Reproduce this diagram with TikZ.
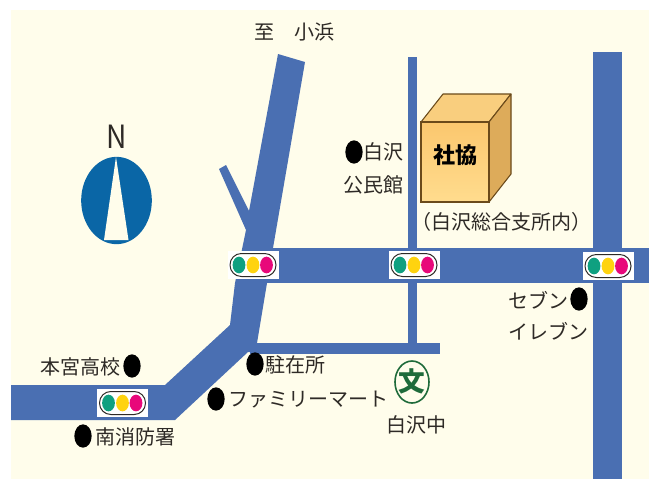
\documentclass[tikz,border=0pt]{standalone}
\usepackage{fontspec}
\setmainfont{Noto Sans CJK JP}
\usetikzlibrary{shapes.geometric}
\definecolor{cream}{HTML}{FFFDEB}
\definecolor{road}{HTML}{4A6FB2}
\definecolor{compass}{HTML}{0A66A6}
\definecolor{sgreen}{HTML}{0FA080}
\definecolor{syellow}{HTML}{FFD30F}
\definecolor{spink}{HTML}{E8087A}
\definecolor{ink}{HTML}{2E2A26}
\definecolor{school}{HTML}{1F6B3A}
\definecolor{boxedge}{HTML}{6B4A1A}
\definecolor{boxtop}{HTML}{F9CE7E}
\definecolor{boxside}{HTML}{DDAB5A}
\definecolor{boxfronta}{HTML}{FBC76E}
\definecolor{boxfrontb}{HTML}{FFDC8E}
\tikzset{
  x=0.75pt,y=-0.75pt,
  roadfill/.style={fill=road,draw=none},
  lbl/.style={font=\fontsize{15pt}{16pt}\selectfont,text=ink,inner sep=0pt},
  dotmark/.style={ellipse,fill=black,draw=none,minimum width=13pt,minimum height=17.5pt,inner sep=0pt,outer sep=0pt},
  signalbg/.style={fill=white,draw=none},
  signalcase/.style={draw=ink,line width=0.75pt,fill=white,rounded corners=8.5pt},
  lamp/.style={ellipse,draw=none,minimum width=9.6pt,minimum height=12.5pt,inner sep=0pt,outer sep=0pt},
}
\newcommand{\trafficsignal}[3]{% centre x, centre y, name
  \fill[signalbg] (#1-25.5,#2-14) rectangle (#1+25.5,#2+14);
  \draw[signalcase] (#1-23,#2-11.5) rectangle (#1+23,#2+11.5);
  \node[lamp,fill=sgreen] (#3g) at (#1-14,#2) {};
  \node[lamp,fill=syellow] (#3y) at (#1,#2) {};
  \node[lamp,fill=spink] (#3p) at (#1+13.5,#2) {};
}
\begin{document}
\begin{tikzpicture}
\useasboundingbox (0,0) rectangle (649,479);
\fill[white] (0,0) rectangle (649,479);
\fill[cream] (11,10) rectangle (649,479);
% roads
\fill[roadfill] (593,52) rectangle (622,479);
\fill[roadfill] (408,57) rectangle (417,345);
\fill[roadfill] (250,343) rectangle (440,354);
\fill[roadfill] (255,248) rectangle (649,283);
\fill[roadfill] (278,54) -- (305,62) -- (273,248) -- (267,283) -- (257,343) -- (257,352)
  -- (248,352) -- (175,420) -- (11,420) -- (11,385) -- (165,385) -- (230,325) -- (235,283)
  -- (246,230) -- (219,169) -- (226,165) -- (249,211) -- cycle;
% compass
\node[lbl,font=\fontsize{24pt}{26pt}\selectfont] (north) at (117,137) {\scalebox{0.88}[1]{N}};
\node[ellipse,fill=compass,minimum width=53pt,minimum height=65.5pt,inner sep=0pt,outer sep=0pt] (dial) at (116.5,200.5) {};
\fill[cream] (116,157) -- (128.5,240) -- (104,240) -- cycle;
% building
\fill[top color=boxfronta,bottom color=boxfrontb,draw=none] (421,122) rectangle (489,202);
\filldraw[fill=boxtop,draw=boxedge,line width=0.8pt,line join=round] (421,122) -- (443,94) -- (511,94) -- (489,122) -- cycle;
\filldraw[fill=boxside,draw=boxedge,line width=0.8pt,line join=round] (489,122) -- (511,94) -- (511,174) -- (489,202) -- cycle;
\draw[boxedge,line width=0.8pt] (421,122) rectangle (489,202);
\node[lbl,text=black,font=\fontsize{16.5pt}{18pt}\bfseries\selectfont] (shakyo) at (455,155) {社協};
% signals
\trafficsignal{253}{265}{a}
\trafficsignal{414}{265}{b}
\trafficsignal{608}{266}{c}
\trafficsignal{122.5}{403}{d}
% school
\node[ellipse,draw=school,line width=1.2pt,fill=cream,minimum width=25.5pt,minimum height=31.5pt,inner sep=0pt] (school) at (412,382) {};
\node[inner sep=0pt,font=\fontsize{20pt}{21pt}\bfseries\selectfont,text=school] (bun) at (412,381) {文};
% labels
\node[lbl] (to) at (294,32) {至　小浜};
\node[dotmark] (m1) at (132,366) {};
\node[lbl,anchor=east] (t1) at (121,367) {本宮高校};
\node[dotmark] (m2) at (255,364) {};
\node[lbl,anchor=west] (t2) at (265,365) {駐在所};
\node[dotmark] (m3) at (216,399) {};
\node[lbl,anchor=west] (t3) at (228,400) {ファミリーマート};
\node[dotmark] (m4) at (83,436) {};
\node[lbl,anchor=west] (t4) at (95,437) {南消防署};
\node[lbl] (t5) at (416,425) {白沢中};
\node[dotmark] (m6) at (579,299) {};
\node[lbl,anchor=east] (t6) at (569,300) {セブン};
\node[lbl,anchor=east] (t6b) at (589,331) {イレブン};
\node[dotmark] (m7) at (354,152) {};
\node[lbl,anchor=east] (t7) at (404,152) {白沢};
\node[lbl,anchor=east] (t7b) at (404,185) {公民館};
\node[lbl] (t8) at (501,222) {（白沢総合支所内）};
\end{tikzpicture}
\end{document}
